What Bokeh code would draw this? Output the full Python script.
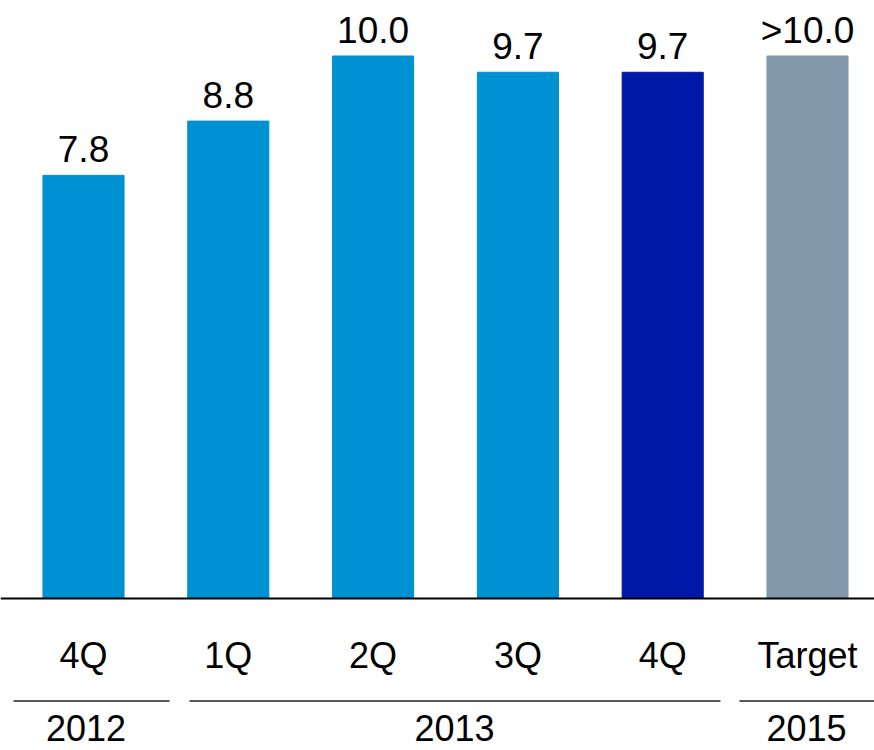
from bokeh.plotting import figure
from bokeh.models import ColumnDataSource, Span, Range1d
from bokeh.core.properties import value
from bokeh.embed import file_html
from bokeh.resources import INLINE

# ---- data ----
quarters = ["4Q", "1Q", "2Q", "3Q", "4Q", "Target"]
values = [7.8, 8.8, 10.0, 9.7, 9.7, 10.0]
value_labels = ["7.8", "8.8", "10.0", "9.7", "9.7", ">10.0"]
colors = ["#0091D2", "#0091D2", "#0091D2", "#0091D2", "#0018A8", "#8397AB"]
years = ["2012", "2013", "2015"]

# ---- layout (group separators / year label positions in category units) ----
sep_x0 = [-0.483, 0.732, 4.530]
sep_x1 = [0.594, 4.399, 5.50]
year_x = [0.017, 2.562, 4.993]

FONT = "Liberation Sans"
W, H = 874, 750
px_per_cat = 144.8
px_per_unit = 54.25
BASE = 598          # pixel row of the zero line
FIX = 14            # baseline compensation for svg text
x_start = -83 / px_per_cat
y_end = BASE / px_per_unit
y_start = -(H - BASE) / px_per_unit

p = figure(width=W, height=H, output_backend="svg", toolbar_location=None,
           x_range=Range1d(x_start, x_start + W / px_per_cat),
           y_range=Range1d(y_start, y_end),
           x_axis_type=None, y_axis_type=None, min_border=0)
p.grid.visible = False
p.outline_line_color = None
p.background_fill_color = "white"

idx = list(range(len(quarters)))
src = ColumnDataSource(dict(x=idx, top=values, color=colors, lab=value_labels,
                            q=quarters))
p.vbar(x="x", top="top", bottom=0, width=0.56, color="color", source=src)

p.text(x="x", y="top", text="lab", source=src, y_offset=-(12 + FIX),
       text_align="center", text_baseline="alphabetic",
       text_font=value(FONT), text_font_size="37px", text_color="black")

# category labels
cat_y = -(669 - FIX - BASE) / px_per_unit
p.text(x="x", y=cat_y, text="q", source=src, text_align="center",
       text_baseline="alphabetic", text_font=value(FONT),
       text_font_size="36px", text_color="black")

# axis baseline
p.add_layout(Span(location=0, dimension="width", line_color="black", line_width=2))

# group separators
sep_y = -(700.5 - BASE) / px_per_unit
p.segment(x0=sep_x0, x1=sep_x1, y0=[sep_y] * 3, y1=[sep_y] * 3,
          line_color="#222222", line_width=1.5)

# year labels
yr_y = -(741 - FIX - BASE) / px_per_unit
p.text(x=year_x, y=[yr_y] * 3, text=years, text_align="center",
       text_baseline="alphabetic", text_font=value(FONT),
       text_font_size="36px", text_color="black")

open("out.html", "w").write(file_html(p, INLINE))
